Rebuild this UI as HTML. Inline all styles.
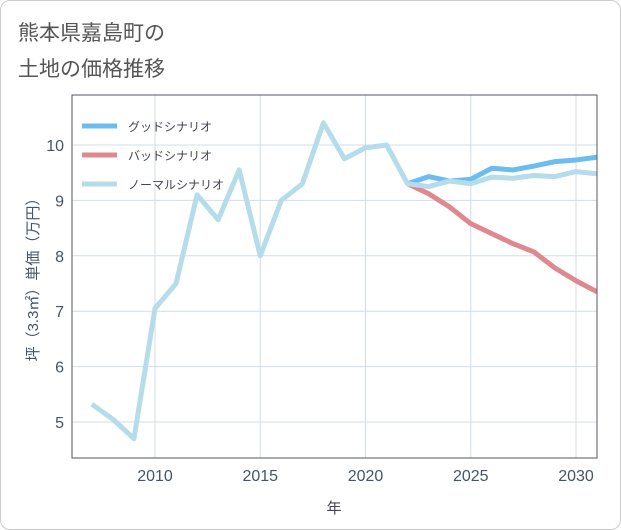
<!DOCTYPE html>
<html><head><meta charset="utf-8"><style>
body{margin:0;background:#fff;}
#wrap{position:relative;width:619px;height:528px;border:1px solid #ccc;border-radius:10px;background:#fff;font-family:"Liberation Sans","Noto Sans CJK JP",sans-serif;}
</style></head><body>
<div id="wrap">
<svg id="c" width="621" height="530" style="position:absolute;left:-1px;top:-1px">
<defs><clipPath id="pc"><rect x="72" y="95" width="525" height="363"/></clipPath></defs>
<text x="18" y="40" font-size="21" fill="#555" font-family="Liberation Sans, Noto Sans CJK JP, sans-serif">熊本県嘉島町の</text>
<text x="18" y="76" font-size="21" fill="#555" font-family="Liberation Sans, Noto Sans CJK JP, sans-serif">土地の価格推移</text>
<g id="grid"></g><g id="lines" clip-path="url(#pc)"></g><g id="axes"></g>
<text x="334" y="513" font-size="15" fill="#445" text-anchor="middle" font-family="Liberation Sans, Noto Sans CJK JP, sans-serif">年</text>
<text transform="translate(38,276) rotate(-90)" font-size="15" fill="#456" text-anchor="middle" font-family="Liberation Sans, Noto Sans CJK JP, sans-serif">坪（3.3㎡）単価（万円）</text>
<g id="legend"></g>
</svg>
</div>
<script>
const years=[2007,2008,2009,2010,2011,2012,2013,2014,2015,2016,2017,2018,2019,2020,2021,2022,2023,2024,2025,2026,2027,2028,2029,2030,2031];
const normalValues=[5.32,5.05,4.7,7.05,7.5,9.1,8.65,9.55,8.0,9.0,9.3,10.4,9.75,9.95,10.0,9.3,9.25,9.35,9.3,9.42,9.4,9.45,9.43,9.52,9.48];
const futureYears=[2022,2023,2024,2025,2026,2027,2028,2029,2030,2031];
const goodValues=[9.3,9.43,9.35,9.38,9.58,9.55,9.62,9.7,9.73,9.78];
const badValues=[9.3,9.12,8.88,8.58,8.4,8.22,8.07,7.78,7.55,7.35];
const xTicks=[2010,2015,2020,2025,2030];
const yTicks=[5,6,7,8,9,10];
const seriesNames=["グッドシナリオ","バッドシナリオ","ノーマルシナリオ"];
const L=72,R=597,T=95,B=458;
const x=v=>155+(v-2010)*21.05;
const y=v=>422-(v-5)*55.4;
const NS="http://www.w3.org/2000/svg";
function mk(p,t,a){const e=document.createElementNS(NS,t);for(const k in a)e.setAttribute(k,a[k]);p.appendChild(e);return e;}
const grid=document.getElementById('grid'),axes=document.getElementById('axes'),lines=document.getElementById('lines'),leg=document.getElementById('legend');
for(const t of xTicks){const l=mk(grid,'line',{x1:x(t),x2:x(t),y1:T,y2:B,stroke:'#d0dde8'});


const tx=mk(axes,'text',{x:x(t),y:B+23,'font-size':16,fill:'#456','text-anchor':'middle'});tx.textContent=t;

}
for(const t of yTicks){const l=mk(grid,'line',{x1:L,x2:R,y1:y(t),y2:y(t),stroke:'#d0dde8'});


const tx=mk(axes,'text',{x:L-8,y:y(t)+6,'font-size':16,fill:'#456','text-anchor':'end'});tx.textContent=t;

}
const fr=mk(axes,'rect',{x:L,y:T,width:R-L,height:B-T,fill:'none',stroke:'#556'});


function line(xs,vs,col,name){const p=mk(lines,'polyline',{points:xs.map((v,i)=>x(v)+','+y(vs[i])).join(' '),fill:'none',stroke:col,'stroke-width':5,'stroke-linejoin':'round'});

}
line(futureYears,badValues,'#e0888f','bad-scenario-line');
line(futureYears,goodValues,'#6bbcf0','good-scenario-line');
line(years,normalValues,'#b5dceb','normal-scenario-line');
const cols=['#6bbcf0','#e0888f','#b5dceb'];
seriesNames.forEach((n,i)=>{const yy=126+i*29;
const s=mk(leg,'line',{x1:82,x2:117,y1:yy,y2:yy,stroke:cols[i],'stroke-width':5});


const t=mk(leg,'text',{x:128,y:yy+5,'font-size':12,fill:'#445'});t.textContent=n;

});
</script>
</body></html>
